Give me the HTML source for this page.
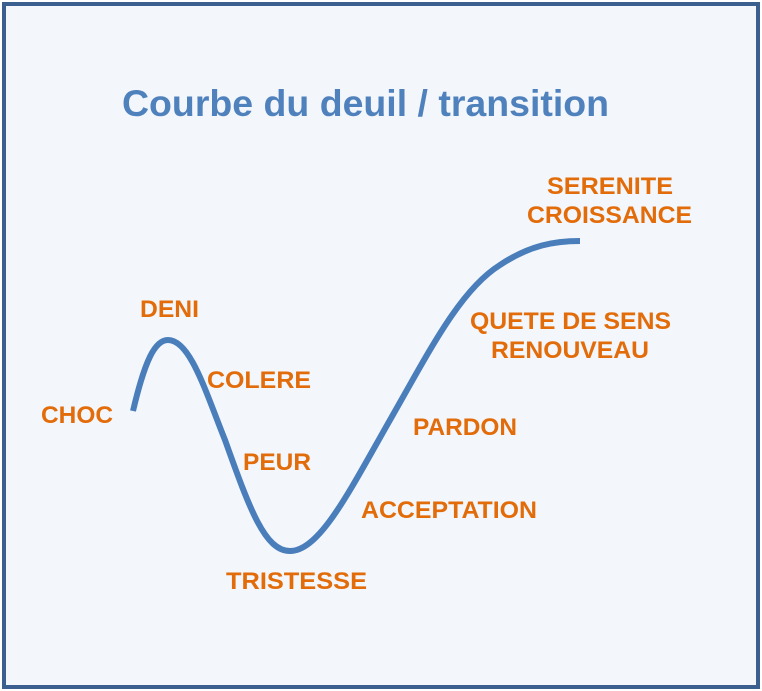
<!DOCTYPE html>
<html><head><meta charset="utf-8"><style>
body{margin:0;width:762px;height:691px;overflow:hidden;background:#fff}
svg{display:block}
text{font-family:"Liberation Sans",Arial,sans-serif;font-weight:bold}
.l{fill:#e36c0a;font-size:24px}
</style></head><body>
<svg width="762" height="691" viewBox="0 0 762 691">
<rect x="4" y="4" width="754" height="683" fill="#f3f6fb" stroke="#3b5f8e" stroke-width="4"/>
<text x="122" y="116" fill="#4f81bd" font-size="37" textLength="487" lengthAdjust="spacingAndGlyphs">Courbe du deuil / transition</text>
<path d="M133,411 C145,360 155,340 168,340 C190,340 205,390 225,440 C250,510 265,551 290,551 C320,551 350,490 390,420 C430,350 460,290 500,265 C530,245 555,241 580,241" fill="none" stroke="#4a7ebb" stroke-width="6"/>
<text class="l" x="41" y="423" textLength="72" lengthAdjust="spacingAndGlyphs">CHOC</text>
<text class="l" x="140" y="317" textLength="59" lengthAdjust="spacingAndGlyphs">DENI</text>
<text class="l" x="207" y="388" textLength="104" lengthAdjust="spacingAndGlyphs">COLERE</text>
<text class="l" x="243" y="470" textLength="68" lengthAdjust="spacingAndGlyphs">PEUR</text>
<text class="l" x="226" y="589" textLength="141" lengthAdjust="spacingAndGlyphs">TRISTESSE</text>
<text class="l" x="361" y="518" textLength="176" lengthAdjust="spacingAndGlyphs">ACCEPTATION</text>
<text class="l" x="413" y="435" textLength="104" lengthAdjust="spacingAndGlyphs">PARDON</text>
<text class="l" x="470" y="329" textLength="201" lengthAdjust="spacingAndGlyphs">QUETE DE SENS</text>
<text class="l" x="491" y="358" textLength="158" lengthAdjust="spacingAndGlyphs">RENOUVEAU</text>
<text class="l" x="547" y="194" textLength="126" lengthAdjust="spacingAndGlyphs">SERENITE</text>
<text class="l" x="527" y="223" textLength="165" lengthAdjust="spacingAndGlyphs">CROISSANCE</text>
</svg>
</body></html>
